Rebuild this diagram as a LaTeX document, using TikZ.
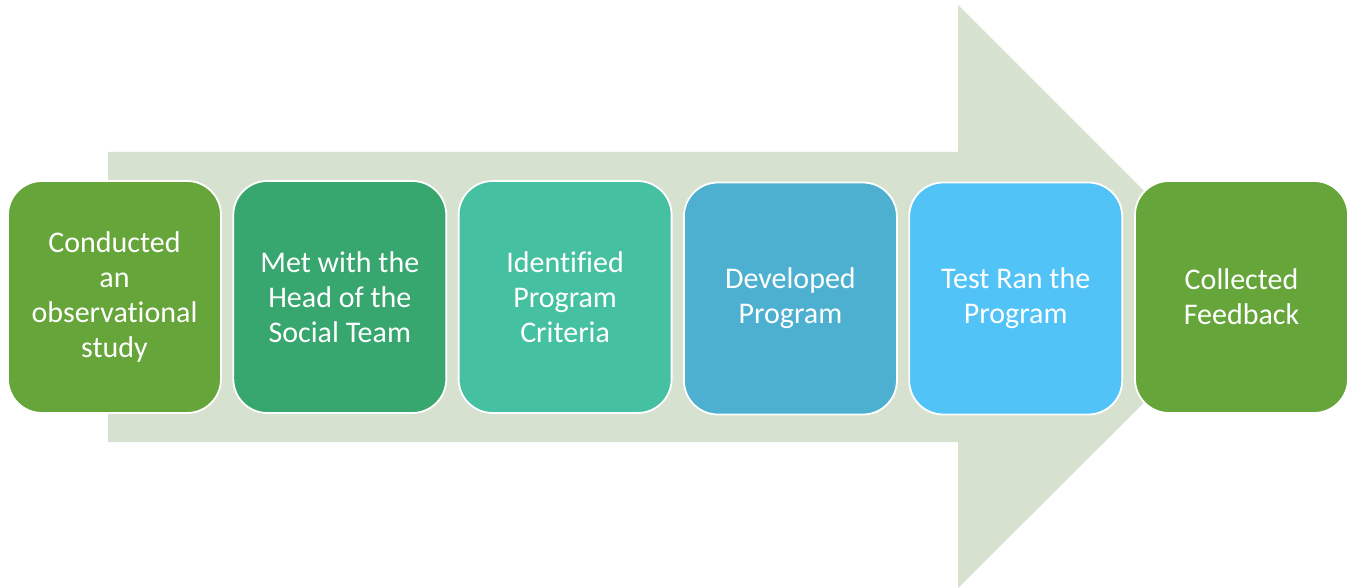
\documentclass[tikz,border=0pt]{standalone}
\usepackage{fontspec}
\setmainfont[Ligatures=NoCommon]{Carlito}
\definecolor{arrowc}{HTML}{D6E1D0}
\definecolor{cA}{HTML}{65A539}
\definecolor{cB}{HTML}{38A76F}
\definecolor{cC}{HTML}{45C1A2}
\definecolor{cD}{HTML}{4DB0D0}
\definecolor{cE}{HTML}{52C3F7}
\tikzset{
  stepbox/.style={rounded corners=34pt, minimum width=213pt, minimum height=232pt,
    draw=white, line width=1.8pt, text=white, align=center, inner sep=0pt,
    font=\fontsize{30pt}{35pt}\selectfont},
}
\begin{document}
\begin{tikzpicture}[x=1pt,y=-1pt]
\useasboundingbox (0,0) rectangle (1351,588);
\fill[arrowc] (108,152) -- (958,152) -- (958,5) -- (1250,297) -- (958,588) -- (958,442) -- (108,442) -- cycle;
\node[stepbox, fill=cA] (s1) at (114.5,297) {Conducted\\an\\observational\\study};
\node[stepbox, fill=cB] (s2) at (339.8,297) {Met with the\\Head of the\\Social Team};
\node[stepbox, fill=cC] (s3) at (565.1,297) {Identified\\Program\\Criteria};
\node[stepbox, fill=cD] (s4) at (790.4,298.5) {Developed\\Program};
\node[stepbox, fill=cE] (s5) at (1015.7,298.5) {Test Ran the\\Program};
\node[stepbox, fill=cA] (s6) at (1241.5,297) {Collected\\Feedback};
\end{tikzpicture}
\end{document}
